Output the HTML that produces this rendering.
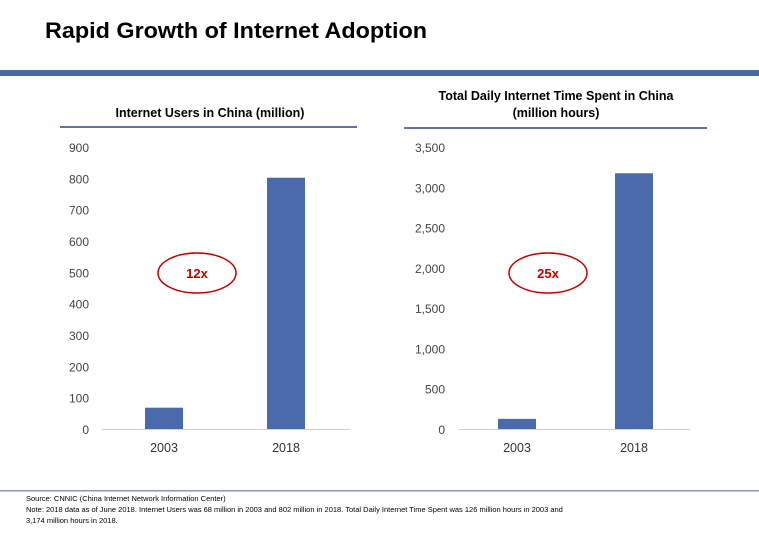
<!DOCTYPE html>
<html><head><meta charset="utf-8"><style>
body{margin:0;background:#fff;font-family:"Liberation Sans",sans-serif}
svg text{font-family:"Liberation Sans",sans-serif}
</style></head><body>
<svg width="759" height="537" viewBox="0 0 759 537">
<text x="45" y="38" font-size="22" font-weight="bold" fill="#000" textLength="382" lengthAdjust="spacingAndGlyphs">Rapid Growth of Internet Adoption</text>
<rect x="0" y="70" width="759" height="6" fill="#4a6aa5"/>
<text x="210" y="117" font-size="12.5" font-weight="bold" text-anchor="middle">Internet Users in China (million)</text>
<rect x="60" y="126" width="297" height="2" fill="#5a74a8"/>
<text x="556" y="100" font-size="12.5" font-weight="bold" text-anchor="middle">Total Daily Internet Time Spent in China</text>
<text x="556" y="117" font-size="12.5" font-weight="bold" text-anchor="middle">(million hours)</text>
<rect x="404" y="127" width="303" height="2" fill="#5a74a8"/>
<line x1="102" y1="429.5" x2="350" y2="429.5" stroke="#d0d0d0" stroke-width="1"/>
<line x1="459" y1="429.5" x2="690" y2="429.5" stroke="#d0d0d0" stroke-width="1"/>
<g id="left"></g>
<g id="right"></g>
<ellipse cx="197" cy="273" rx="39" ry="20" fill="none" stroke="#c00000" stroke-width="1.5"/>
<text x="197" y="278" font-size="13" font-weight="bold" fill="#c00000" text-anchor="middle">12x</text>
<ellipse cx="548" cy="273" rx="39" ry="20" fill="none" stroke="#c00000" stroke-width="1.5"/>
<text x="548" y="278" font-size="13" font-weight="bold" fill="#c00000" text-anchor="middle">25x</text>
<rect x="0" y="490" width="759" height="1.5" fill="#8a96ab"/>
<text x="26" y="501" font-size="7.5">Source: CNNIC (China Internet Network Information Center)</text>
<text x="26" y="512" font-size="7.5">Note: 2018 data as of June 2018.  Internet Users was 68 million in 2003 and 802 million in 2018.  Total Daily Internet Time Spent was 126 million hours in 2003 and</text>
<text x="26" y="523" font-size="7.5">3,174 million hours in 2018.</text>
</svg>
<script>
const categories=["2003","2018"];
const usersValues=[68,802];
const usersTicks=[0,100,200,300,400,500,600,700,800,900];
const timeValues=[126,3174];
const timeTicks=[0,500,1000,1500,2000,2500,3000,3500];
const NS="http://www.w3.org/2000/svg";
function mk(tag,attrs,parent){const e=document.createElementNS(NS,tag);for(const k in attrs)e.setAttribute(k,attrs[k]);parent.appendChild(e);return e;}
function draw(gid,vals,ticks,max,labelX,barXs,barW,fmt){
  const g=document.getElementById(gid);
  const y0=429,y1=147;
  const ys=v=>y0-(v/max)*(y0-y1);
  ticks.forEach(t=>{
    const tx=mk('text',{x:labelX,y:ys(t)+5,'font-size':12,fill:'#444','text-anchor':'end'},g);
    tx.textContent=fmt(t);
    
    
  });
  vals.forEach((v,i)=>{
    const r=mk('rect',{x:barXs[i],y:ys(v),width:barW,height:y0-ys(v),fill:'#4a6aac'},g);
    
    
    const c=mk('text',{x:barXs[i]+barW/2,y:452,'font-size':12.5,fill:'#333','text-anchor':'middle'},g);
    c.textContent=categories[i];
    
    
  });
}
draw('left',usersValues,usersTicks,900,89,[145,267],38,t=>String(t));
draw('right',timeValues,timeTicks,3500,445,[498,615],38,t=>t.toLocaleString('en-US'));
</script>
</body></html>
